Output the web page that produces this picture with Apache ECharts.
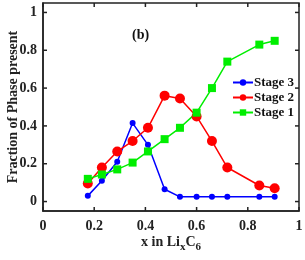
<!DOCTYPE html>
<html><head><meta charset="utf-8">
<script src="https://cdn.jsdelivr.net/npm/echarts@6/dist/echarts.min.js"></script>
<style>html,body{margin:0;padding:0;background:#fff}#c{width:305px;height:260px}</style>
</head><body><div id="c"></div>
<script>
var xVals = [0.175, 0.23, 0.29, 0.35, 0.41, 0.475, 0.535, 0.6, 0.66, 0.72, 0.845, 0.905];
var stage3 = [0.03, 0.11, 0.21, 0.415, 0.30, 0.065, 0.025, 0.025, 0.025, 0.025, 0.025, 0.025];
var stage2 = [0.095, 0.18, 0.265, 0.32, 0.39, 0.56, 0.545, 0.45, 0.32, 0.18, 0.085, 0.07];
var stage1 = [0.12, 0.143, 0.17, 0.206, 0.265, 0.33, 0.39, 0.47, 0.60, 0.74, 0.83, 0.85];
var xTicks = [0, 0.2, 0.4, 0.6, 0.8, 1];
var yTicks = [0, 0.2, 0.4, 0.6, 0.8, 1];
var seriesNames = ['Stage 3', 'Stage 2', 'Stage 1'];

(function(){
function pairs(ys){ return xVals.map(function(x,i){ return [x, ys[i]]; }); }
var FONT = '"Liberation Serif", "DejaVu Serif", serif';
var chart = echarts.init(document.getElementById('c'), null, {renderer:'canvas'});
var axisLineStyle = {color:'#222', width:1.5};
var X_MIN = 0, X_MAX = 1, Y_MIN = -0.05, Y_MAX = 1.05;
chart.setOption({
  animation:false,
  backgroundColor:'#fff',
  textStyle:{fontFamily:FONT},
  title:{text:'(b)', left:127, top:23, textStyle:{fontFamily:FONT, fontWeight:'bold', fontSize:14, color:'#111'}},
  grid:{left:43, right:6, top:3, bottom:49, containLabel:false, outerBoundsMode:'none',
    show:true, borderColor:'#222', borderWidth:1.5, backgroundColor:'transparent'},
  legend:{
    orient:'vertical', left:227, top:71, itemWidth:20, itemHeight:8, itemGap:2,
    data:seriesNames,
    textStyle:{fontFamily:FONT, fontWeight:'bold', fontSize:13, color:'#111', padding:[0,0,0,-4]}
  },
  xAxis:{
    type:'value', min:X_MIN, max:X_MAX, interval:0.2,
    axisLine:{show:true, onZero:false, lineStyle:axisLineStyle},
    axisTick:{show:false},
    splitLine:{show:false},
    axisLabel:{fontFamily:FONT, fontWeight:'bold', fontSize:14, color:'#222', margin:8},
    name:'{n|x in Li}{s|x}{n|C}{s|6}', nameLocation:'middle', nameGap:21, nameMoveOverlap:false,
    nameTextStyle:{rich:{
      n:{fontFamily:FONT, fontWeight:'bold', fontSize:14, color:'#222'},
      s:{fontFamily:FONT, fontWeight:'bold', fontSize:11, color:'#222', verticalAlign:'top', padding:[10,0,0,0]}
    }}
  },
  yAxis:{
    type:'value', min:Y_MIN, max:Y_MAX,
    axisLine:{show:true, onZero:false, lineStyle:axisLineStyle},
    axisTick:{show:false},
    axisLabel:{fontFamily:FONT, fontWeight:'bold', fontSize:14, color:'#222', margin:6, customValues:yTicks,
      formatter:function(v){ return String(Math.round(v*10)/10); }},
    splitLine:{show:false},
    name:'Fraction of Phase present', nameLocation:'middle', nameGap:23, nameMoveOverlap:false,
    nameTextStyle:{fontFamily:FONT, fontWeight:'bold', fontSize:14, color:'#222'}
  },
  series:[
    {name:seriesNames[0], type:'line', data:pairs(stage3), symbol:'circle', symbolSize:6,
      lineStyle:{color:'#0000ff', width:1.5}, itemStyle:{color:'#0000ff'}},
    {name:seriesNames[1], type:'line', data:pairs(stage2), symbol:'circle', symbolSize:10,
      lineStyle:{color:'#ff0000', width:1.5}, itemStyle:{color:'#ff0000'}},
    {name:seriesNames[2], type:'line', data:pairs(stage1), symbol:'rect', symbolSize:8,
      lineStyle:{color:'#00ee00', width:1.5}, itemStyle:{color:'#00ee00'}}
  ]
});
// inward tick marks on all four sides, positioned through the axis scales
var TL = 4;
var gLeft = chart.convertToPixel({xAxisIndex:0}, X_MIN);
var gRight = chart.convertToPixel({xAxisIndex:0}, X_MAX);
var gBottom = chart.convertToPixel({yAxisIndex:0}, Y_MIN);
var gTop = chart.convertToPixel({yAxisIndex:0}, Y_MAX);
var tickEls = [];
function ts(){ return {stroke:'#222', lineWidth:1.5}; }
xTicks.forEach(function(v){
  var px = chart.convertToPixel({xAxisIndex:0}, v);
  tickEls.push({type:'line', silent:true, z:10, shape:{x1:px, y1:gBottom, x2:px, y2:gBottom-TL}, style:ts()});
  tickEls.push({type:'line', silent:true, z:10, shape:{x1:px, y1:gTop, x2:px, y2:gTop+TL}, style:ts()});
});
yTicks.forEach(function(v){
  var py = chart.convertToPixel({yAxisIndex:0}, v);
  tickEls.push({type:'line', silent:true, z:10, shape:{x1:gLeft, y1:py, x2:gLeft+TL, y2:py}, style:ts()});
  tickEls.push({type:'line', silent:true, z:10, shape:{x1:gRight, y1:py, x2:gRight-TL, y2:py}, style:ts()});
});
chart.setOption({graphic:{elements:tickEls}});
})();
</script></body></html>
